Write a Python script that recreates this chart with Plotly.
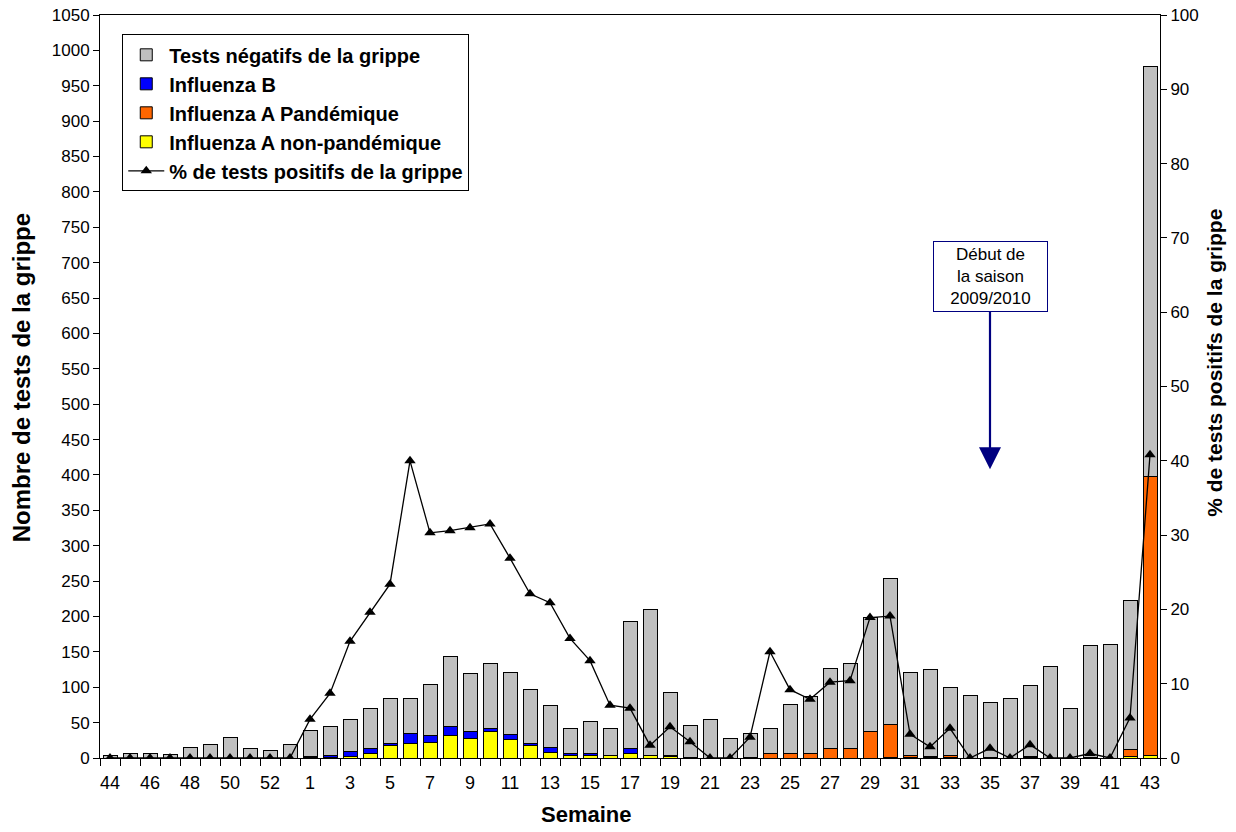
import plotly.graph_objects as go

weeks = [44, 45, 46, 47, 48, 49, 50, 51, 52, 53] + list(range(1, 44))

neg_tests = [4, 7, 7, 5, 15, 19, 29, 13, 11, 19,
             37, 40, 46, 56, 64, 50, 72, 99, 82, 92,
             88, 76, 59, 35, 45, 39, 180, 206, 88, 45,
             54, 28, 33, 36, 68, 80, 114, 119, 161, 206,
             117, 123, 96, 88, 78, 84, 100, 129, 70, 158,
             161, 211, 579]
flu_b = [0, 0, 0, 0, 0, 0, 0, 0, 0, 0,
         1, 3, 7, 8, 3, 14, 10, 12, 9, 5,
         7, 3, 7, 4, 4, 0, 6, 0, 1, 1,
         0, 0, 0, 0, 0, 0, 0, 0, 0, 0,
         0, 0, 0, 0, 0, 0, 0, 0, 0, 0,
         0, 0, 0]
flu_a_pand = [0, 0, 0, 0, 0, 0, 0, 0, 0, 0,
              0, 0, 0, 0, 0, 0, 0, 0, 0, 0,
              0, 0, 0, 0, 0, 0, 1, 0, 1, 0,
              0, 0, 1, 6, 7, 7, 13, 14, 38, 47,
              3, 1, 3, 0, 1, 0, 1, 0, 0, 1,
              0, 10, 394]
flu_a_nonpand = [0, 0, 0, 0, 0, 0, 0, 0, 0, 0,
                 1, 1, 2, 6, 17, 20, 22, 32, 28, 37,
                 26, 18, 8, 3, 3, 3, 6, 4, 2, 0,
                 0, 0, 0, 0, 0, 0, 0, 0, 0, 1,
                 1, 1, 1, 0, 0, 0, 1, 0, 0, 0,
                 0, 2, 4]
pct_positive = [0, 0, 0, 0, 0, 0, 0, 0, 0, 0,
                5.2, 8.7, 15.7, 19.6, 23.4, 40.0, 30.3, 30.6, 31.0, 31.5,
                26.9, 22.1, 20.9, 16.1, 13.1, 7.1, 6.7, 1.7, 4.2, 2.2,
                0, 0, 2.8, 14.3, 9.2, 7.9, 10.2, 10.4, 18.9, 19.1,
                3.2, 1.5, 4.0, 0, 1.3, 0, 1.8, 0, 0, 0.6,
                0, 5.4, 40.8]

x_idx = list(range(len(weeks)))
tick_idx = x_idx[::2]
tick_text = [str(w) for w in weeks[::2]]

FONT = "Liberation Sans, Arial, sans-serif"
bar_line = dict(color="#000000", width=1)

fig = go.Figure()
fig.add_trace(go.Bar(x=x_idx, y=flu_a_nonpand, name="Influenza A non-pandémique",
                     marker=dict(color="#FFFF00", line=bar_line), legendrank=4))
fig.add_trace(go.Bar(x=x_idx, y=flu_a_pand, name="Influenza A Pandémique",
                     marker=dict(color="#FF6600", line=bar_line), legendrank=3))
fig.add_trace(go.Bar(x=x_idx, y=flu_b, name="Influenza B",
                     marker=dict(color="#0000FF", line=bar_line), legendrank=2))
fig.add_trace(go.Bar(x=x_idx, y=neg_tests, name="Tests négatifs de la grippe",
                     marker=dict(color="#C0C0C0", line=bar_line), legendrank=1))
fig.add_trace(go.Scatter(x=x_idx, y=pct_positive, yaxis="y2", mode="lines+markers",
                         name="% de tests positifs de la grippe",
                         line=dict(color="#000000", width=1.3),
                         marker=dict(symbol="triangle-up", size=10, color="#000000"),
                         legendrank=5))

season_idx = weeks.index(35, 10)
fig.add_annotation(x=season_idx, y=408, xref="x", yref="y",
                   ax=season_idx, ay=681, axref="x", ayref="y",
                   text="Début de<br>la saison<br>2009/2010",
                   showarrow=True, arrowhead=2, arrowsize=2.0, arrowwidth=2.2,
                   arrowcolor="#000080", align="center",
                   font=dict(family=FONT, size=17, color="#000000"),
                   bordercolor="#000080", borderwidth=1, borderpad=3, bgcolor="#FFFFFF",
                   width=107)

# axis titles
fig.add_annotation(text="<b>Semaine</b>", xref="paper", yref="paper",
                   x=0.459, y=-0.076, xanchor="center", yanchor="middle",
                   showarrow=False, font=dict(family=FONT, size=22, color="#000000"))
fig.add_annotation(text="<b>Nombre de tests de la grippe</b>", xref="paper", yref="paper",
                   x=(21 - 100) / 1060, y=0.511, xanchor="center", yanchor="middle",
                   textangle=-90, showarrow=False,
                   font=dict(family=FONT, size=24, color="#000000"))
fig.add_annotation(text="<b>% de tests positifs de la grippe</b>", xref="paper", yref="paper",
                   x=(1215 - 100) / 1060, y=0.532, xanchor="center", yanchor="middle",
                   textangle=-90, showarrow=False,
                   font=dict(family=FONT, size=21, color="#000000"))

fig.update_layout(
    width=1236, height=832,
    paper_bgcolor="#FFFFFF", plot_bgcolor="#FFFFFF",
    barmode="stack", bargap=0.3,
    margin=dict(l=100, r=76, t=15, b=74, autoexpand=False),
    font=dict(family=FONT, size=17, color="#000000"),
    showlegend=True,
    legend=dict(x=0.021, y=0.974, xanchor="left", yanchor="top", traceorder="normal",
                bgcolor="#FFFFFF", bordercolor="#000000", borderwidth=1,
                font=dict(family=FONT, size=20, color="#000000", weight="bold"),
                tracegroupgap=0, itemwidth=36),
    xaxis=dict(range=[-0.5, len(weeks) - 0.5], tickmode="array",
               tickvals=tick_idx, ticktext=tick_text, ticks="",
               ticklabelstandoff=8,
               showline=True, linecolor="#000000", linewidth=1, mirror=True,
               showgrid=False, zeroline=False,
               minor=dict(tickmode="linear", tick0=0.5, dtick=1, ticks="outside",
                          ticklen=7, tickcolor="#000000", showgrid=False),
               tickfont=dict(size=18), automargin=False),
    yaxis=dict(range=[0, 1050], dtick=50, ticks="outside", ticklen=6,
               tickcolor="#000000", showline=True, linecolor="#000000", linewidth=1,
               showgrid=False, zeroline=False, tickfont=dict(size=17),
               automargin=False),
    yaxis2=dict(range=[0, 100], dtick=10, overlaying="y", side="right",
                ticks="outside", ticklen=6, tickcolor="#000000",
                showline=True, linecolor="#000000", linewidth=1,
                showgrid=False, zeroline=False, tickfont=dict(size=17),
                automargin=False),
)

fig.write_html("out.html", config={"displayModeBar": False},
               post_script="document.body.style.margin='0';")
